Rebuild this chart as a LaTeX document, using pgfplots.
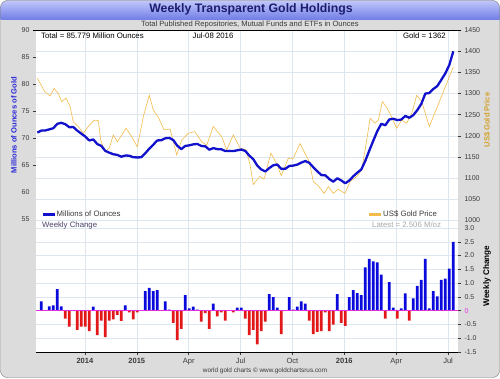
\documentclass[border=0pt]{standalone}
\usepackage{pgfplots}
\pgfplotsset{compat=1.18}
\usepackage{fontspec}
\setmainfont{Liberation Sans}
\definecolor{bg}{HTML}{DCDCDC}
\definecolor{framegray}{HTML}{7A7A7A}
\definecolor{titletop}{HTML}{C4CAFA}
\definecolor{titlebot}{HTML}{6E7CE6}
\definecolor{titletext}{HTML}{1C1C70}
\definecolor{gridc}{HTML}{DDE6EF}
\definecolor{blueline}{HTML}{1212CC}
\definecolor{goldline}{HTML}{F2BC4A}
\definecolor{barblue}{HTML}{0A0ADC}
\definecolor{barred}{HTML}{E21818}
\definecolor{zeromag}{HTML}{E030E0}
\definecolor{labelblue}{HTML}{2828D8}
\definecolor{labelgold}{HTML}{D4A12A}
\definecolor{tickgray}{HTML}{3A3A3A}
\definecolor{legpurple}{HTML}{4A4068}
\definecolor{latestgray}{HTML}{A8A8A8}
\pgfplotsset{
  common/.style={
    anchor=south west, scale only axis, width=422pt,
    xmin=-1.325, xmax=104.175,
    axis line style={draw=none},
    tick align=outside, major tick length=3pt,
    tick style={tickgray, line width=0.5pt},
    tick label style={font=\fontsize{7}{8}\selectfont, text=tickgray},
    /pgf/number format/assume math mode=true,
    /pgf/number format/1000 sep={},
    grid style={gridc, line width=0.5pt},
    xtick={10.9,23.87,36.84,49.81,62.78,75.75,88.72,101.69},
  }
}
\begin{document}
\begin{tikzpicture}
\useasboundingbox (0,0) rectangle (500pt,378pt);
\fill[white] (0,0) rectangle (500pt,378pt);
\begin{scope}
\clip[rounded corners=7pt] (0.5pt,0.5pt) rectangle (499.5pt,377.5pt);
\fill[bg] (0,0) rectangle (500pt,378pt);
\shade[top color=titletop, bottom color=titlebot] (0,358pt) rectangle (500pt,378pt);
\end{scope}
\draw[framegray, rounded corners=7pt] (0.5pt,0.5pt) rectangle (499.5pt,377.5pt);
\fill[white] (36pt,26pt) rectangle (458pt,348pt);

% upper panel, gold price (right axis)
\begin{axis}[common, at={(36pt,150pt)}, height=198pt,
  ymin=982.3, ymax=1450,
  xticklabels={}, xtick style={draw=none},
  xmajorgrids, ymajorgrids,
  ytick={1150,1200,1250,1300,1350,1400,1450},
  extra y ticks={1000,1050,1100},
  extra y tick style={grid=major, major tick style={draw=none}},
  ytick pos=right, yticklabel pos=right]
\addplot[goldline, line width=0.6pt] coordinates {
(-1.0,1336) (0.9,1304) (2.2,1294) (3.2,1312) (4.25,1300) (5.1,1281) (6.2,1289) (7.2,1269)
(8.0,1233) (9.25,1222) (10.5,1206) (11.75,1222) (13.2,1237) (14.25,1236) (14.85,1190) (15.9,1163)
(17,1171) (18,1202) (19,1186) (21.2,1218) (22.6,1198) (24,1174) (25.5,1245) (27,1296) (28,1261)
(29.25,1244) (30.7,1214) (32.2,1216) (33.85,1155) (35.1,1190) (36.75,1206) (38.4,1210) (40.1,1186)
(41.35,1178) (43,1222) (45.1,1198) (46.35,1167) (48,1202) (49.7,1171) (51.2,1167) (52.2,1131)
(53.0,1085) (54.6,1104) (55.7,1098) (57.4,1159) (58.8,1135) (60.0,1106) (61.75,1147) (63,1147)
(64.7,1182) (65.9,1159) (67,1139) (68,1092) (69.25,1082) (70.7,1064) (71.75,1080) (73,1064)
(74.25,1074) (75.9,1064) (77.2,1092) (78.85,1104) (80.1,1119) (81.35,1190) (82.2,1241) (83.4,1230)
(84.25,1237) (85.25,1281) (86.35,1267) (87.35,1249) (88.85,1218) (90.1,1237) (91.35,1230)
(92.6,1253) (93.85,1296) (95.1,1281) (97,1222) (98.85,1265) (100.5,1304) (103,1363)
};
\end{axis}

% upper panel, holdings (left axis)
\begin{axis}[common, at={(36pt,150pt)}, height=198pt,
  ymin=53.33, ymax=90,
  xtick=\empty,
  ytick={65,70,75,80,85,90},
  extra y ticks={55,60},
  extra y tick style={major tick style={draw=none}},
  ytick pos=left]
\addplot[blueline, line width=2.3pt, line join=round] coordinates {
(-1,71.00) (0,71.37) (1,71.40) (2,71.59) (3,71.81) (4,72.62) (5,72.81) (6,72.55) (7,72.00)
(8,72.03) (9,71.36) (10,70.81) (11,70.26) (12,69.55) (13,69.73) (14,68.87) (15,68.54)
(16,67.61) (17,67.28) (18,66.99) (19,66.87) (20,66.53) (21,66.75) (22,66.72) (23,66.43)
(24,66.40) (25,66.43) (26,67.17) (27,68.03) (28,68.77) (29,69.55) (30,69.58) (31,69.95)
(32,70.02) (33,69.61) (34,68.57) (35,67.94) (36,68.53) (37,68.64) (38,68.82) (39,68.89)
(40,68.52) (41,68.46) (42,67.83) (43,68.12) (44,67.94) (45,67.91) (46,67.58) (47,67.61)
(48,67.58) (49,67.72) (50,67.86) (51,67.60) (52,66.74) (53,66.07) (54,64.88) (55,64.17)
(56,63.80) (57,64.43) (58,64.95) (59,65.09) (60,64.27) (61,64.30) (62,64.82) (63,64.89)
(64,65.07) (65,65.44) (66,65.73) (67,65.40) (68,64.58) (69,63.84) (70,63.13) (71,63.10)
(72,62.39) (73,61.91) (74,62.54) (75,62.13) (76,61.61) (77,62.13) (78,62.91) (79,63.58)
(80,64.17) (81,65.77) (82,67.68) (83,69.50) (84,71.28) (85,72.62) (86,72.36) (87,73.43)
(88,73.57) (89,73.31) (90,73.42) (91,74.08) (92,73.75) (93,74.23) (94,75.16) (95,76.31)
(96,78.22) (97,78.33) (98,79.07) (99,79.62) (100,80.77) (101,81.96) (102,83.52) (103,86.05)
};
\end{axis}

% lower panel, weekly change
\begin{axis}[common, at={(36pt,26pt)}, height=124pt,
  ymin=-1.5, ymax=3,
  xticklabels={\textbf{2014},\textbf{2015},Apr,Jul,Oct,\textbf{2016},Apr,Jul},
  x tick label style={font=\fontsize{7.5}{8}\selectfont, text=tickgray},
  xtick pos=bottom,
  xmajorgrids, ymajorgrids,
  ytick={-1.5,-1,-0.5,0,0.5,1,1.5,2,2.5},
  yticklabels={-1.5,-1.0,-0.5,\textcolor{zeromag}{0},0.5,1.0,1.5,2.0,2.5},
  extra y ticks={3}, extra y tick labels={3.0},
  extra y tick style={grid=major, major tick style={draw=none}},
  ytick pos=right, yticklabel pos=right]
\addplot[ybar, bar width=2.7pt, bar shift=0pt, fill=barblue, draw=none] coordinates {
(0,0.34) (2,0.16) (3,0.19) (4,0.78) (5,0.16) (13,0.15) (21,0.19) (26,0.71) (27,0.83) (28,0.71)
(29,0.75) (31,0.34) (32,0.04) (36,0.56) (37,0.08) (38,0.15) (39,0.04) (43,0.26) (49,0.11)
(50,0.11) (57,0.60) (58,0.49) (59,0.11) (62,0.49) (63,0.04) (64,0.15) (65,0.34) (66,0.26)
(74,0.60) (77,0.49) (78,0.75) (79,0.64) (80,0.56) (81,1.57) (82,1.88) (83,1.79) (84,1.75)
(85,1.31) (87,1.04) (88,0.11) (90,0.08) (91,0.63) (93,0.45) (94,0.90) (95,1.12) (96,1.88)
(97,0.08) (98,0.71) (99,0.52) (100,1.12) (101,1.16) (102,1.53) (103,2.50)
};
\addplot[ybar, bar width=2.7pt, bar shift=0pt, fill=barred, draw=none] coordinates {
(6,-0.29) (7,-0.58) (9,-0.70) (10,-0.58) (11,-0.58) (12,-0.74) (14,-0.89) (15,-0.36)
(16,-0.96) (17,-0.36) (18,-0.32) (19,-0.15) (20,-0.37) (22,-0.06) (23,-0.32) (24,-0.06)
(33,-0.44) (34,-1.07) (35,-0.66) (40,-0.40) (41,-0.09) (42,-0.66) (44,-0.21) (45,-0.06)
(46,-0.36) (48,-0.06) (51,-0.29) (52,-0.89) (53,-0.70) (54,-1.22) (55,-0.74) (56,-0.40)
(60,-0.85) (67,-0.36) (68,-0.85) (69,-0.77) (70,-0.74) (71,-0.06) (72,-0.74) (73,-0.51)
(75,-0.44) (76,-0.55) (86,-0.29) (89,-0.29) (92,-0.36)
};
\addplot[zeromag, line width=0.8pt] coordinates {(-1.325,0) (104.175,0)};
\end{axis}

% frame lines
\draw[black, line width=0.8pt] (33pt,348pt) -- (461pt,348pt);
\draw[black, line width=0.8pt] (36pt,26pt) -- (458pt,26pt);

% titles and texts
\node[font=\bfseries\fontsize{12.3}{14}\selectfont, text=titletext] at (251pt,368.5pt) {Weekly Transparent Gold Holdings};
\node[font=\fontsize{7.6}{9}\selectfont, text=tickgray] at (250pt,353.5pt) {Total Published Repositories, Mutual Funds and ETFs in Ounces};
\node[anchor=west, font=\fontsize{7.8}{9}\selectfont, inner sep=0pt] at (41pt,342.5pt) {Total = 85.779 Million Ounces};
\node[font=\fontsize{7.8}{9}\selectfont, inner sep=0pt] at (213pt,342.5pt) {Jul-08 2016};
\node[anchor=east, font=\fontsize{7.8}{9}\selectfont, inner sep=0pt] at (446pt,342.5pt) {Gold = 1362};

% legends
\draw[blueline, line width=3pt] (43pt,164pt) -- (55pt,164pt);
\node[anchor=west, font=\fontsize{7.8}{9}\selectfont, text=tickgray, inner sep=0pt] at (56.5pt,164pt) {Millions of Ounces};
\node[anchor=west, font=\fontsize{7.8}{9}\selectfont, text=legpurple, inner sep=0pt] at (42pt,153pt) {Weekly Change};
\draw[goldline, line width=3pt] (369pt,164pt) -- (381pt,164pt);
\node[anchor=west, font=\fontsize{7.8}{9}\selectfont, text=tickgray, inner sep=0pt] at (383pt,164pt) {US\$ Gold Price};
\node[anchor=west, font=\fontsize{7.8}{9}\selectfont, text=latestgray, inner sep=0pt] at (372pt,153pt) {Latest = 2.506 M/oz};

% axis labels
\node[rotate=90, font=\bfseries\fontsize{7.6}{9}\selectfont, text=labelblue] at (14pt,253pt) {Millions of Ounces of Gold};
\node[rotate=90, font=\bfseries\fontsize{7.6}{9}\selectfont, text=labelgold] at (487pt,258pt) {US\$ Gold Price};
\node[rotate=90, font=\bfseries\fontsize{8.2}{9}\selectfont, text=black] at (487pt,102pt) {Weekly Change};

\node[font=\fontsize{6.4}{8}\selectfont, text=tickgray] at (265pt,7pt) {world gold charts © www.goldchartsrus.com};
\end{tikzpicture}
\end{document}
